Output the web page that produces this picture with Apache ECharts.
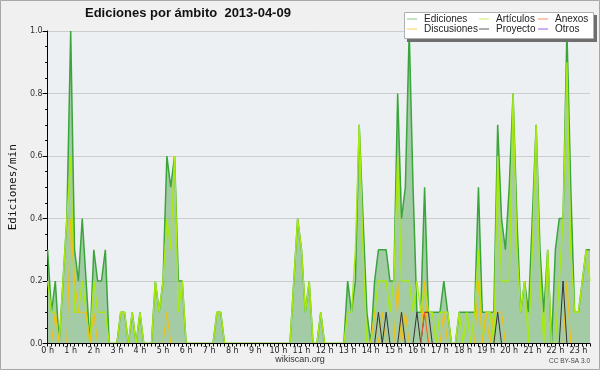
<!DOCTYPE html>
<html><head><meta charset="utf-8">
<script src="https://cdn.jsdelivr.net/npm/echarts@6/dist/echarts.min.js"></script>
<style>html,body{margin:0;padding:0;background:#f0f0f0}#c{width:600px;height:370px}</style>
</head><body><div id="c"></div><script>
const hourLabels = ['0 h','1 h','2 h','3 h','4 h','5 h','6 h','7 h','8 h','9 h','10 h','11 h','12 h','13 h','14 h','15 h','16 h','17 h','18 h','19 h','20 h','21 h','22 h','23 h'];
const slotMinutes = ['00','10','20','30','40','50'];
const seriesNames = ['Ediciones','Artículos','Anexos','Discusiones','Proyecto','Otros'];

const ediciones = [
 0.3,0.1,0.2,0,0.2,0.4,
 1.0,0.3,0.2,0.4,0.2,0,
 0.3,0.2,0.2,0.3,0,0,
 0,0.1,0.1,0,0.1,0,
 0.1,0,0,0,0.2,0.1,
 0.2,0.6,0.5,0.6,0.2,0.2,
 0,0,0,0,0,0,
 0,0,0.1,0.1,0,0,
 0,0,0,0,0,0,
 0,0,0,0,0,0,
 0,0,0,0,0.2,0.4,
 0.3,0.1,0.2,0,0,0.1,
 0,0,0,0,0,0,
 0.2,0.1,0.2,0.7,0.4,0.1,
 0,0.2,0.3,0.3,0.3,0.2,
 0.2,0.8,0.4,0.5,1.0,0.5,
 0.1,0.1,0.5,0.1,0.1,0.1,
 0.1,0.2,0.1,0,0,0.1,
 0.1,0.1,0.1,0.1,0.5,0.1,
 0.1,0.1,0.1,0.7,0.4,0.3,
 0.5,0.8,0.4,0.1,0.2,0.1,
 0.4,0.7,0.3,0.1,0.3,0,
 0.3,0.4,0.4,1.0,0.5,0.1,
 0.1,0.2,0.3,0.3];

const articulos = [
 0.2,0.1,0.1,0,0.2,0.4,
 0.6,0.1,0.1,0.2,0.1,0,
 0.2,0.1,0.1,0.1,0,0,
 0,0.1,0.1,0,0.1,0,
 0.1,0,0,0,0.2,0.1,
 0.2,0.4,0.3,0.6,0.1,0.2,
 0,0,0,0,0,0,
 0,0,0.1,0.1,0,0,
 0,0,0,0,0,0,
 0,0,0,0,0,0,
 0,0,0,0,0.2,0.4,
 0.3,0.1,0.2,0,0,0.1,
 0,0,0,0,0,0,
 0.1,0.1,0.3,0.7,0.3,0,
 0,0.1,0.2,0.2,0.2,0.1,
 0.2,0.6,0.2,0.2,0.2,0.1,
 0.2,0.1,0.2,0.1,0.1,0,
 0.1,0.1,0.1,0,0,0.1,
 0,0.1,0,0.1,0.3,0,
 0.1,0.1,0,0.6,0.2,0.2,
 0.2,0.8,0.3,0.1,0.2,0,
 0.3,0.7,0.2,0,0.3,0,
 0,0.2,0.4,0.9,0.3,0.1,
 0.1,0.2,0.3,0.2];

const anexos = [
 0,0,0,0,0,0, 0,0,0,0,0,0, 0,0,0,0,0,0, 0,0,0,0,0,0,
 0,0,0,0,0,0, 0,0,0,0,0,0, 0,0,0,0,0,0, 0,0,0,0,0,0,
 0,0,0,0,0,0, 0,0,0,0,0,0, 0,0,0,0,0,0, 0,0,0,0,0,0,
 0,0,0,0,0,0, 0,0,0,0,0,0, 0,0,0,0,0,0, 0,0,0,0,0,0,
 0,0,0.1,0,0,0, 0,0,0,0,0,0, 0,0,0,0,0,0, 0,0,0,0,0,0,
 0,0,0,0,0,0, 0,0,0,0,0,0, 0,0,0,0,0,0, 0,0,0,0];

const discusiones = [
 0,0,0.1,0,0,0,
 0.4,0.2,0.1,0.1,0.1,0,
 0.1,0,0,0,0,0,
 0,0,0,0,0,0,
 0,0,0,0,0,0,
 0,0.1,0,0,0,0,
 0,0,0,0,0,0, 0,0,0,0,0,0, 0,0,0,0,0,0, 0,0,0,0,0,0,
 0,0,0,0,0,0, 0,0,0,0,0,0, 0,0,0,0,0,0, 0,0,0,0,0,0,
 0,0.1,0,0.1,0,0,
 0,0.2,0,0.1,0,0,
 0,0,0.2,0,0,0,
 0,0.1,0,0,0,0,
 0,0,0,0,0.2,0,
 0.1,0,0.1,0.1,0.1,0,
 0,0,0,0,0,0,
 0,0,0,0,0,0,
 0,0,0,0.2,0,0,
 0,0,0,0];

const proyecto = [
 0,0,0,0,0,0, 0,0,0,0,0,0, 0,0,0,0,0,0, 0,0,0,0,0,0,
 0,0,0,0,0,0, 0,0,0,0,0,0, 0,0,0,0,0,0, 0,0,0,0,0,0,
 0,0,0,0,0,0, 0,0,0,0,0,0, 0,0,0,0,0,0, 0,0,0,0,0,0,
 0,0,0,0,0,0, 0,0,0,0,0,0,
 0,0,0.1,0,0.1,0,
 0,0,0.1,0,0,0,
 0.1,0,0.1,0.1,0,0,
 0,0,0,0,0,0,
 0,0,0,0,0,0,
 0,0,0,0.1,0,0,
 0,0,0,0,0,0,
 0,0,0,0,0,0,
 0,0,0.2,0,0,0,
 0,0,0,0];

const otros = [
 0,0,0,0,0,0, 0,0,0,0,0,0, 0,0,0,0,0,0, 0,0,0,0,0,0,
 0,0,0,0,0,0, 0,0,0,0,0,0, 0,0,0,0,0,0, 0,0,0,0,0,0,
 0,0,0,0,0,0, 0,0,0,0,0,0, 0,0,0,0,0,0, 0,0,0,0,0,0,
 0,0,0,0,0,0, 0,0,0,0,0,0, 0,0,0,0,0,0, 0,0,0,0,0,0,
 0,0,0,0,0,0, 0,0,0,0,0,0, 0,0,0,0,0,0, 0,0,0,0,0,0,
 0,0,0,0,0,0, 0,0,0,0,0,0, 0,0,0,0,0,0, 0,0,0,0];

// time slot categories (10-minute slots)
const categories = ediciones.map((_, i) => hourLabels[Math.floor(i / 6)].replace(' h', '') + ':' + slotMinutes[i % 6]);

const lineColors = {Ediciones:'#3aa53a', 'Artículos':'#a8ea10', Anexos:'#f06030', Discusiones:'#f3c010', Proyecto:'#333333', Otros:'#9040f0'};
const legendColors = {Ediciones:'#84c884', 'Artículos':'#c8f060', Anexos:'#f89060', Discusiones:'#f8d050', Proyecto:'#5a5a5a', Otros:'#9a5cf0'};

const chart = echarts.init(document.getElementById('c'));
const mkLegend = (names, left) => ({
  data: names.map(n => ({name: n, itemStyle: {color: legendColors[n]}})),
  orient: 'vertical', left: left, top: 14, padding: 0, itemGap: 0,
  icon: 'rect', itemWidth: 10, itemHeight: 1, selectedMode: false, z: 6,
  textStyle: {fontFamily: 'Liberation Sans', fontSize: 10, color: '#222', lineHeight: 10, padding: [0,0,0,2]}
});
const line = (name, data, w, extra) => Object.assign({
  name: name, type: 'line', data: data, symbol: 'none', animation: false,
  lineStyle: {color: lineColors[name], width: w}, itemStyle: {color: lineColors[name]}
}, extra || {});

chart.setOption({
  backgroundColor: '#f0f0f0',
  animation: false,
  title: {text: 'Ediciones por ámbito  2013-04-09', left: 85, top: 7, padding: 0,
    textStyle: {fontFamily: 'Liberation Sans', fontWeight: 'bold', fontSize: 13, color: '#111'}},
  legend: [mkLegend(['Ediciones','Discusiones'], 407), mkLegend(['Artículos','Proyecto'], 479), mkLegend(['Anexos','Otros'], 538)],
  grid: {left: 46, right: 10, top: 31, bottom: 26.5, show: true, backgroundColor: '#edf0f3', borderWidth: 0},
  xAxis: {
    type: 'category', data: categories, boundaryGap: false, z: 10,
    axisLine: {lineStyle: {color: '#000', width: 1}},
    axisTick: {show: true, interval: 0, length: 3, lineStyle: {color: '#000'}},
    axisLabel: {interval: 5, margin: 3, fontFamily: 'DejaVu Sans', fontSize: 8, color: '#222',
      formatter: (v, idx) => hourLabels[Math.floor(idx / 6)]},
    splitLine: {show: false}
  },
  yAxis: {
    type: 'value', min: 0, max: 1, interval: 0.2,
    name: 'Ediciones/min', nameLocation: 'middle', nameGap: 28,
    nameTextStyle: {fontFamily: 'DejaVu Sans Mono', fontSize: 11, color: '#111'},
    axisLine: {show: true, lineStyle: {color: '#000'}},
    axisTick: {show: true, length: 5, lineStyle: {color: '#000'}},
    minorTick: {show: true, splitNumber: 4, length: 2.5, lineStyle: {color: '#000'}},
    axisLabel: {margin: 5, fontFamily: 'DejaVu Sans', fontSize: 8, color: '#333', formatter: v => v.toFixed(1)},
    splitLine: {show: true, lineStyle: {color: '#cdcdcd', width: 1}}
  },
  series: [
    line('Ediciones', ediciones, 1.5, {areaStyle: {color: '#5aa85a', opacity: 0.5}}),
    line('Artículos', articulos, 1.4),
    line('Discusiones', discusiones, 1.1),
    line('Proyecto', proyecto, 1),
    line('Anexos', anexos, 1),
    line('Otros', otros, 1)
  ],
  graphic: [
    {type: 'rect', shape: {x: 0.5, y: 0.5, width: 599, height: 369}, style: {fill: 'none', stroke: '#a8a8a8', lineWidth: 1}, z: 1},
    {type: 'rect', shape: {x: 407, y: 15, width: 190, height: 27}, style: {fill: '#6e6e6e'}, z: 4},
    {type: 'rect', shape: {x: 404.5, y: 12.5, width: 189, height: 26}, style: {fill: '#ffffff', stroke: '#b0b0b0', lineWidth: 1}, z: 5},
    {type: 'text', left: 'center', top: 355, style: {text: 'wikiscan.org', font: '9px "Liberation Sans"', fill: '#333'}, z: 5},
    {type: 'text', right: 10, top: 358, style: {text: 'CC BY-SA 3.0', font: '6.5px "Liberation Sans"', fill: '#444'}, z: 5}
  ]
});
</script></body></html>
